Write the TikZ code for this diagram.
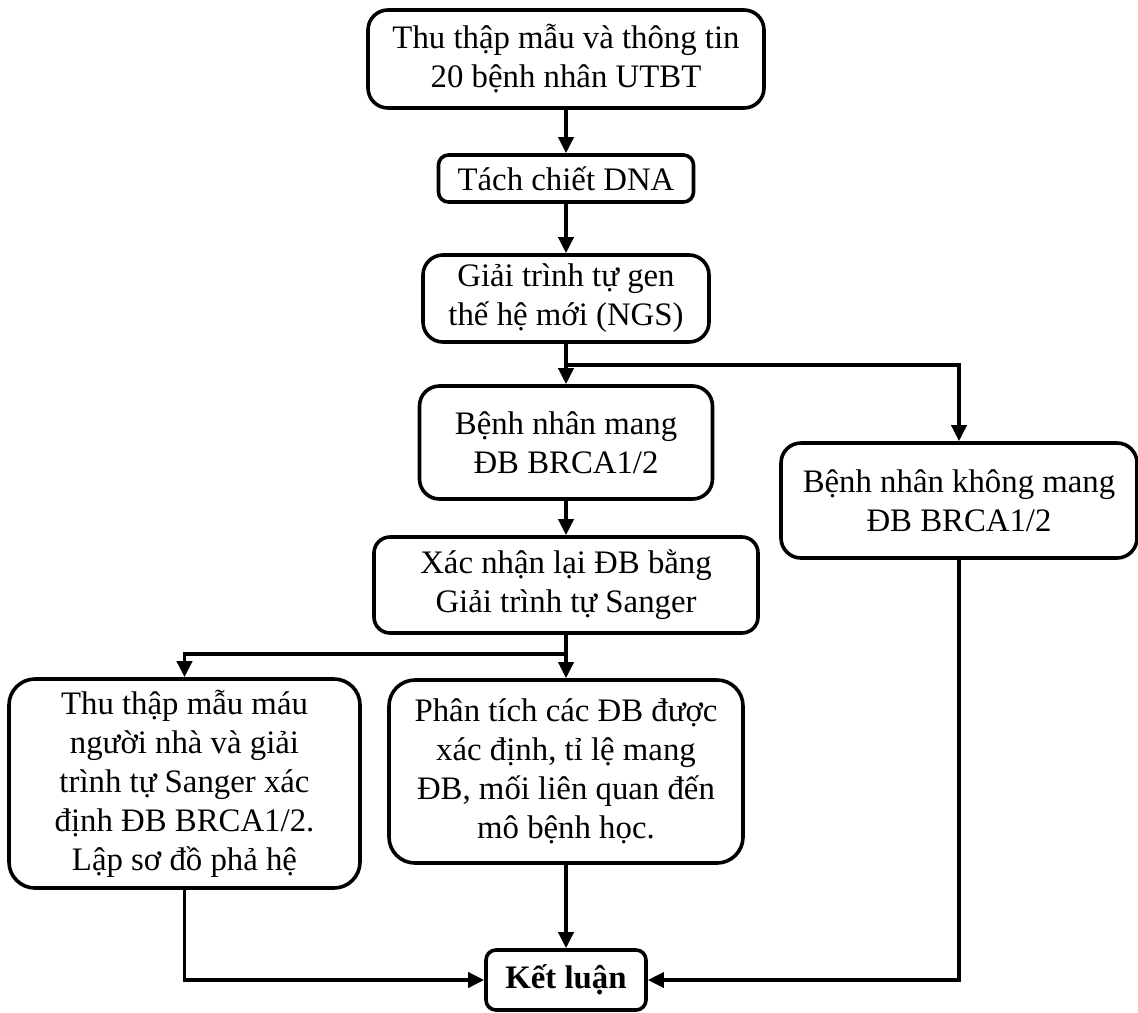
\documentclass[tikz,border=0pt]{standalone}
\usepackage{fontspec}
\setmainfont{Liberation Serif}
\usetikzlibrary{arrows.meta,calc,positioning}
\tikzset{
	flowbox/.style={draw,line width=1.8pt,rounded corners=10pt,align=center,inner sep=2pt,font=\fontsize{16.4}{19.5}\selectfont},
	flowarrow/.style={line width=1.8pt,-{Triangle[length=8pt,width=7.5pt]}},
}
\begin{document}
\begin{tikzpicture}[x=0.5pt,y=-0.5pt]
	\useasboundingbox (0,0) rectangle (1138,1012);
	% main column
	\node [flowbox,minimum width=198pt,minimum height=49pt] (collect) at(566,59){Thu thập mẫu và thông tin\\20 bệnh nhân UTBT};
	\node [flowbox,rounded corners=5pt,minimum width=127.5pt,minimum height=23.5pt] (dna) at(566,178.5){Tách chiết DNA};
	\node [flowbox,minimum width=143pt,minimum height=43.5pt] (ngs) at(566,298.5){Giải trình tự gen\\thế hệ mới (NGS)};
	\node [flowbox,minimum width=146.5pt,minimum height=56.5pt] (carrier) at(566,442.5){Bệnh nhân mang\\ĐB BRCA1/2};
	\node [flowbox,minimum width=178pt,minimum height=57.5pt] (noncarrier) at(959,500.5){Bệnh nhân không mang\\ĐB BRCA1/2};
	\node [flowbox,rounded corners=8pt,minimum width=192pt,minimum height=48pt] (sanger) at(566,585){Xác nhận lại ĐB bằng\\Giải trình tự Sanger};
	\node [flowbox,rounded corners=13pt,minimum width=175.5pt,minimum height=104.5pt] (family) at(184.5,783.5){Thu thập mẫu máu\\người nhà và giải\\trình tự Sanger xác\\định ĐB BRCA1/2.\\Lập sơ đồ phả hệ};
	\node [flowbox,rounded corners=13pt,minimum width=177pt,minimum height=91.5pt] (analysis) at(566,771.5){Phân tích các ĐB được\\xác định, tỉ lệ mang\\ĐB, mối liên quan đến\\mô bệnh học.};
	\node [flowbox,rounded corners=5pt,minimum width=80pt,minimum height=30pt,font=\fontsize{16.4}{19.5}\selectfont\bfseries] (result) at(566,980){Kết luận};
	% connectors
	\coordinate (split1) at ($(ngs.south)+(0,21)$);
	\coordinate (split2) at ($(sanger.south)+(0,19)$);
	\draw [flowarrow] (collect) -- (dna);
	\draw [flowarrow] (dna) -- (ngs);
	\draw [flowarrow] (ngs) -- (carrier);
	\draw [flowarrow] (split1) -| (noncarrier.north);
	\draw [flowarrow] (carrier) -- (sanger);
	\draw [flowarrow] (sanger) -- (analysis);
	\draw [flowarrow] (split2) -| (family.north);
	\draw [flowarrow] (analysis) -- (result);
	\draw [flowarrow] (family.south) |- (result.west);
	\draw [flowarrow] (noncarrier.south) |- (result.east);
\end{tikzpicture}
\end{document}
